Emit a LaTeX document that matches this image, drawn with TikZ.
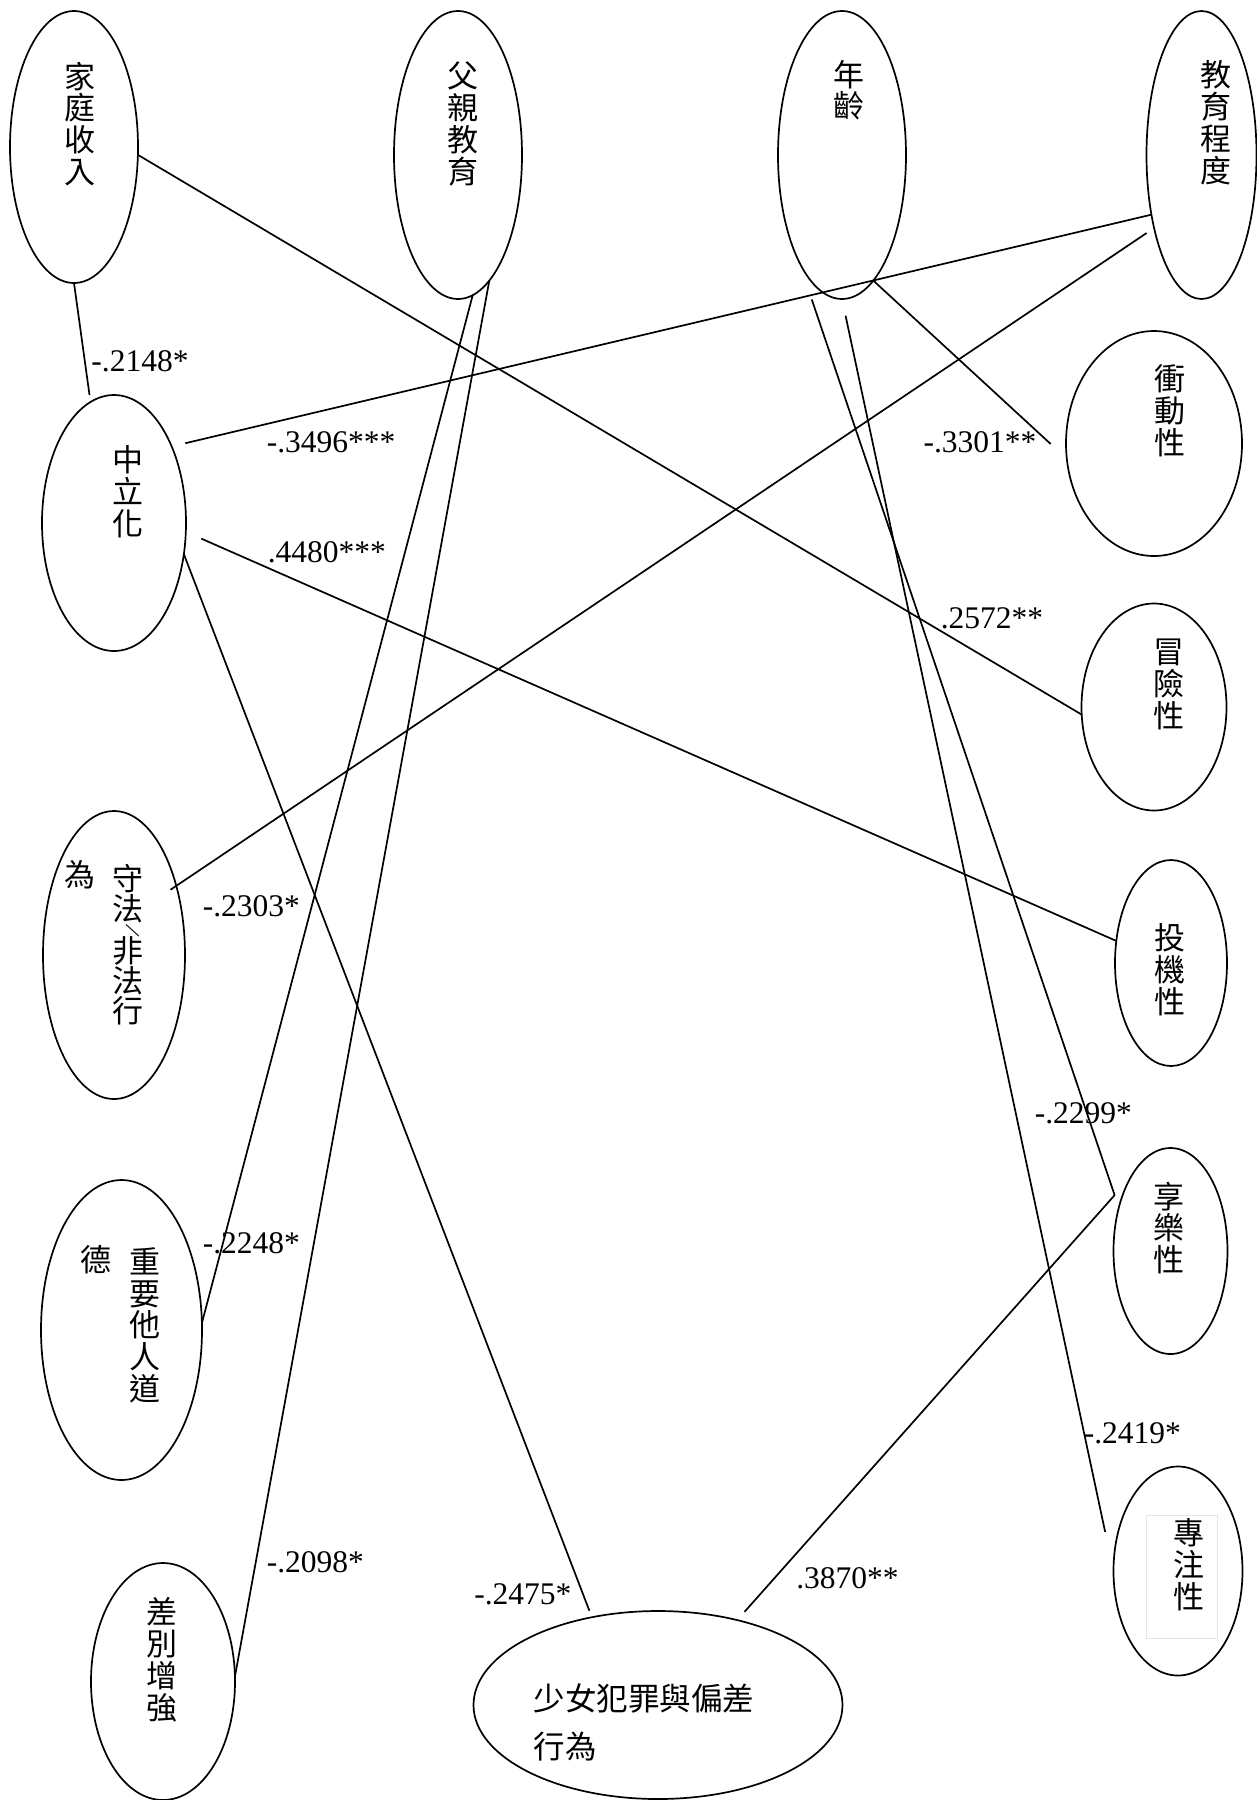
\documentclass[tikz,border=0pt]{standalone}
\usepackage{fontspec}
\setmainfont{Liberation Serif}
\newfontfamily\cjk{Noto Sans CJK TC}
\usetikzlibrary{shapes.geometric}
\newcommand\slashmark{\makebox[0pt]{\kern-21pt\raisebox{-16pt}[0pt][0pt]{\rotatebox[origin=c]{-115}{\cjk\fontsize{17}{17}\selectfont /}}}}
\begin{document}
\begin{tikzpicture}[x=1pt,y=-1pt,line width=1.7pt,
  ell/.style={draw, ellipse, inner sep=0pt, outer sep=0pt},
  vt/.style={font=\cjk\fontsize{31}{31.8}\selectfont, align=center, inner sep=0pt, anchor=north},
  lab/.style={font=\fontsize{31.5}{33}\selectfont, inner sep=0pt, anchor=west}]
\useasboundingbox (0,0) rectangle (1257,1800);
\fill[white] (0,0) rectangle (1257,1800);

% ellipses
\node[ell, minimum width=128pt, minimum height=272pt] (fam) at (74,147) {};
\node[ell, minimum width=128pt, minimum height=288pt] (fat) at (458,155) {};
\node[ell, minimum width=128pt, minimum height=288pt] (age) at (842,155) {};
\node[ell, minimum width=110pt, minimum height=288pt] (edu) at (1201.5,155) {};
\node[ell, minimum width=144pt, minimum height=256pt] (neu) at (114,523) {};
\node[ell, minimum width=176pt, minimum height=225pt] (imp) at (1154,443.5) {};
\node[ell, minimum width=145pt, minimum height=207pt] (risk) at (1154,707) {};
\node[ell, minimum width=112pt, minimum height=206pt] (spec) at (1171,963) {};
\node[ell, minimum width=114pt, minimum height=206pt] (hed) at (1170.5,1251) {};
\node[ell, minimum width=129pt, minimum height=209pt] (foc) at (1178,1571) {};
\node[ell, minimum width=142pt, minimum height=288pt] (law) at (114,955) {};
\node[ell, minimum width=161pt, minimum height=300pt] (sig) at (121.5,1330) {};
\node[ell, minimum width=144pt, minimum height=237pt] (diff) at (163,1681.5) {};
\node[ell, minimum width=369pt, minimum height=188pt] (del) at (658,1705) {};

% faint text box inside foc
\node[draw=black!10, line width=0.8pt, minimum width=71pt, minimum height=123pt, inner sep=0pt] (focbox) at (1181.5,1576.5) {};

% texts
\node[vt] (famt) at (80,61) {家\\庭\\收\\入};
\node[vt] (fatt) at (463,61) {父\\親\\教\\育};
\node[vt] (aget) at (848.5,59) {年\\齡};
\node[vt] (edut) at (1216,60) {教\\育\\程\\度};
\node[vt] (neut) at (127.5,445) {中\\立\\化};
\node[vt] (impt) at (1170,364) {衝\\動\\性};
\node[vt] (riskt) at (1169,638) {冒\\險\\性};
\node[vt] (spect) at (1169.5,923) {投\\機\\性};
\node[vt] (hedt) at (1169,1181) {享\\樂\\性};
\node[vt] (foct) at (1189,1518) {專\\注\\性};
\node[vt] (diftt) at (162,1597) {差\\別\\增\\強};
\node[vt, font=\cjk\fontsize{31}{30}\selectfont] (lawa) at (128,863) {守\\法\slashmark\\[12pt]非\\法\\行};
\node[vt] (lawc) at (79.5,860) {為};
\node[vt] (siga) at (144.5,1246.5) {重\\要\\他\\人\\道};
\node[vt] (sigb) at (96,1244) {德};
\node[font=\cjk\fontsize{31.5}{48}\selectfont, align=left, inner sep=0pt, anchor=north west] (delt) at (533,1683) {少女犯罪與偏差\\行為};

% connectors
\draw[shorten >=7pt] (fam.south) -- (neu.101);
\draw (fam.-7) -- (risk.186);
\draw[shorten >=14pt] (edu.230) -- (neu.53);
\draw[shorten <=9pt, shorten >=-7pt] (edu.237) -- (law.48);
\draw[shorten <=17pt] (neu.-7) -- (spec.158);
\draw[shorten >=7pt] (neu.-24) -- (del.127);
\draw (fat.-84) -- (sig.5);
\draw (fat.-76) -- (diff.4);
\draw[shorten >=22pt] (age.-76) -- (imp.190);
\coordinate (kink) at ([shift={(-6pt,6pt)}]hed.135);
\draw[shorten <=40pt] (age.248) -- (kink);
\draw[shorten >=11pt] (kink) -- (del.47);
\draw[shorten <=17pt, shorten >=40pt] (age.south) -- (foc.west);

% labels
\node[lab] (l1) at (90.6,361) {-.2148*};
\node[lab] (l2) at (266,442) {-.3496***};
\node[lab] (l3) at (267,552) {.4480***};
\node[lab] (l4) at (922.7,442) {-.3301**};
\node[lab] (l5) at (940,618) {.2572**};
\node[lab] (l6) at (202,906) {-.2303*};
\node[lab] (l7) at (202,1243) {-.2248*};
\node[lab] (l8) at (1034,1113.5) {-.2299*};
\node[lab] (l9) at (1083,1433) {-.2419*};
\node[lab] (l10) at (266,1562) {-.2098*};
\node[lab] (l11) at (473.5,1594) {-.2475*};
\node[lab] (l12) at (795.5,1578) {.3870**};
\end{tikzpicture}
\end{document}
